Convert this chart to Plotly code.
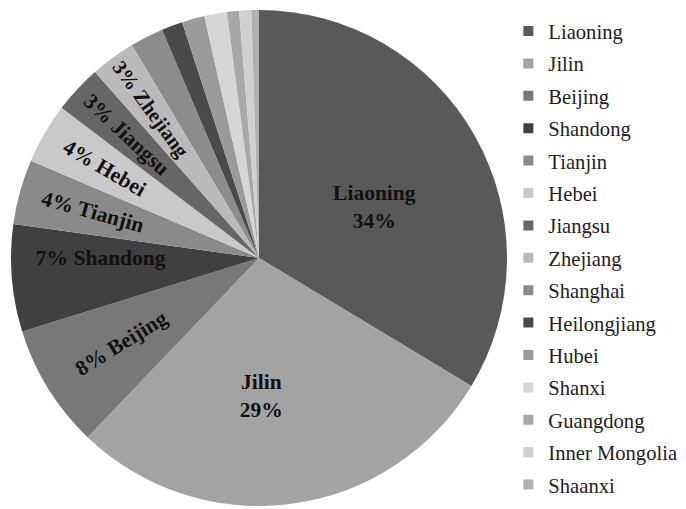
import plotly.graph_objects as go

provinces = ["Liaoning", "Jilin", "Beijing", "Shandong", "Tianjin", "Hebei", "Jiangsu",
             "Zhejiang", "Shanghai", "Heilongjiang", "Hubei", "Shanxi", "Guangdong",
             "Inner Mongolia", "Shaanxi"]
shares = [34.2, 29.0, 8.2, 7.1, 4.3, 4.0, 3.2, 3.0, 2.2, 1.4, 1.5, 1.5, 0.8, 0.8, 0.5]
pct_labels = ["34%", "29%", "8%", "7%", "4%", "4%", "3%", "3%", "", "", "", "", "", "", ""]
colors = ["#595959", "#a3a3a3", "#787878", "#404040", "#8a8a8a", "#c9c9c9", "#666666",
          "#bababa", "#8c8c8c", "#4a4a4a", "#9a9a9a", "#d6d6d6", "#a8a8a8", "#d0d0d0", "#b0b0b0"]

# style: leading non-breaking spaces that pull each radial label in from the rim
label_pad = [0, 0, 0, 4, 2, 2, 2, 1, 0, 0, 0, 0, 0, 0, 0]

NB = "\u00a0"
horizontal_set = {"Liaoning", "Jilin"}
radial_text = [NB * k + f"{p} {n}" if (p and n not in horizontal_set) else ""
               for n, p, k in zip(provinces, pct_labels, label_pad)]


def horiz_label(n, p):
    if n == "Liaoning":
        return f"{NB}<br>{n}<br>{p}"
    if n == "Jilin":
        return f"{n}{NB * 6}<br>{p}{NB * 6}"
    return ""


horiz_text = [horiz_label(n, p) for n, p in zip(provinces, pct_labels)]

# page body has an 8px margin; the figure is offset by it
W, H = 686, 501
domain = dict(x=[0.00437, 0.7274], y=[0.006, 0.996])
label_font = dict(family="Liberation Serif", size=21.5, color="#111111")

fig = go.Figure()
fig.add_trace(go.Pie(
    labels=provinces, values=shares, sort=False, direction="clockwise", rotation=0,
    marker=dict(colors=colors, line=dict(width=0)),
    text=radial_text, textinfo="text", textposition="inside",
    insidetextorientation="radial", insidetextfont=label_font,
    texttemplate="<b>%{text}</b>",
    domain=domain, hoverinfo="label+percent", showlegend=False,
))
fig.add_trace(go.Pie(
    labels=provinces, values=shares, sort=False, direction="clockwise", rotation=0,
    marker=dict(colors=["rgba(0,0,0,0)"] * len(provinces), line=dict(width=0)),
    text=horiz_text, textinfo="text", textposition="inside",
    insidetextorientation="horizontal", insidetextfont=label_font,
    texttemplate="<b>%{text}</b>",
    domain=domain, hoverinfo="skip", showlegend=False,
))
# legend entries (one group each so the row spacing can be set)
for name, col in zip(provinces, colors):
    fig.add_trace(go.Scatter(
        x=[None], y=[None], mode="markers", name=name, legendgroup=name,
        marker=dict(symbol="square", size=10, color=col), hoverinfo="skip",
    ))

fig.update_layout(
    width=W, height=H,
    margin=dict(l=0, r=0, t=0, b=0, autoexpand=False),
    paper_bgcolor="white", plot_bgcolor="white",
    xaxis=dict(visible=False), yaxis=dict(visible=False),
    legend=dict(x=0.7294, y=0.9938, xanchor="left", yanchor="top",
                traceorder="grouped", tracegroupgap=2.62,
                font=dict(family="Liberation Serif", size=20.6, color="#222222"),
                itemclick=False, itemdoubleclick=False),
)
fig.write_html("out.html")
